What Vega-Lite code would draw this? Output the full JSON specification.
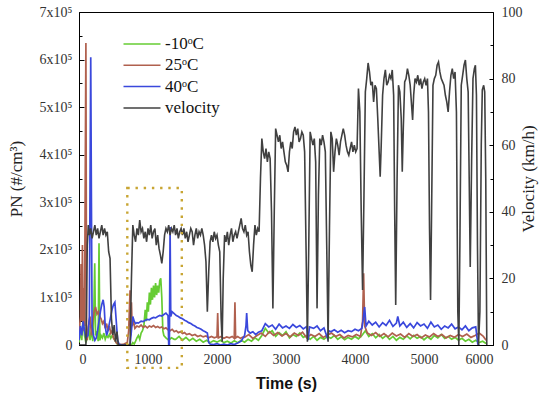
{
"$schema": "https://vega.github.io/schema/vega-lite/v6.json",
"width": 414, "height": 333,
"autosize": "none",
"padding": {"left": 79, "top": 12, "right": 57, "bottom": 54},
"background": "white",
"config": {
 "view": {"stroke": "black", "strokeWidth": 1},
 "axis": {"labelFont": "Liberation Serif", "labelFontSize": 14, "labelColor": "#333", "titleFont": "Liberation Serif", "titleFontSize": 17, "titleFontWeight": "normal", "titleColor": "#222", "domainColor": "black", "tickColor": "black", "grid": false}
},
"datasets": {
 "vel": [
{"t":0,"v":0},{"t":60,"v":0},{"t":100,"v":0},{"t":120,"v":30},{"t":135,"v":36},{"t":150,"v":33},{"t":170,"v":35},{"t":190,"v":32},{"t":210,"v":34},{"t":230,"v":36},{"t":250,"v":33},{"t":270,"v":35},{"t":290,"v":32},{"t":310,"v":34},{"t":330,"v":36},{"t":350,"v":33},{"t":370,"v":35},{"t":390,"v":33},{"t":410,"v":34},{"t":430,"v":28},{"t":450,"v":26},{"t":470,"v":8},{"t":490,"v":3},{"t":510,"v":6},{"t":530,"v":1},{"t":550,"v":4},{"t":570,"v":0},{"t":600,"v":0},{"t":700,"v":0},{"t":740,"v":0},{"t":760,"v":20},{"t":780,"v":36},{"t":800,"v":33},{"t":820,"v":31},{"t":840,"v":35},{"t":860,"v":33},{"t":880,"v":37.5},{"t":900,"v":34},{"t":920,"v":35},{"t":940,"v":32},{"t":960,"v":34},{"t":980,"v":31},{"t":1000,"v":35},{"t":1020,"v":33},{"t":1040,"v":36},{"t":1060,"v":32},{"t":1080,"v":34},{"t":1100,"v":35},{"t":1120,"v":30},{"t":1140,"v":33},{"t":1160,"v":29},{"t":1180,"v":27},{"t":1200,"v":24.5},{"t":1220,"v":28},{"t":1240,"v":33},{"t":1260,"v":35},{"t":1280,"v":34},{"t":1300,"v":36},{"t":1320,"v":33},{"t":1340,"v":35},{"t":1360,"v":34},{"t":1380,"v":36},{"t":1400,"v":33},{"t":1420,"v":35},{"t":1440,"v":32},{"t":1460,"v":34},{"t":1480,"v":35},{"t":1500,"v":33},{"t":1520,"v":35},{"t":1540,"v":32},{"t":1560,"v":34},{"t":1580,"v":31},{"t":1600,"v":33},{"t":1620,"v":35},{"t":1640,"v":34},{"t":1660,"v":30},{"t":1680,"v":33},{"t":1700,"v":35},{"t":1720,"v":32},{"t":1740,"v":34},{"t":1760,"v":33},{"t":1780,"v":35},{"t":1800,"v":33},{"t":1820,"v":30},{"t":1840,"v":25},{"t":1860,"v":10},{"t":1880,"v":22},{"t":1900,"v":31},{"t":1920,"v":33},{"t":1940,"v":31},{"t":1960,"v":34},{"t":1980,"v":32},{"t":2000,"v":33},{"t":2020,"v":30},{"t":2040,"v":28},{"t":2060,"v":8},{"t":2075,"v":1},{"t":2090,"v":20},{"t":2110,"v":33},{"t":2130,"v":31},{"t":2150,"v":34},{"t":2170,"v":30},{"t":2190,"v":33},{"t":2210,"v":35},{"t":2230,"v":31},{"t":2250,"v":33},{"t":2270,"v":34},{"t":2290,"v":32},{"t":2310,"v":34},{"t":2330,"v":36},{"t":2350,"v":38},{"t":2370,"v":35},{"t":2390,"v":34},{"t":2410,"v":36},{"t":2430,"v":33},{"t":2450,"v":34},{"t":2470,"v":28},{"t":2490,"v":24},{"t":2510,"v":22},{"t":2530,"v":30},{"t":2550,"v":36},{"t":2570,"v":33},{"t":2590,"v":35},{"t":2610,"v":34},{"t":2630,"v":50},{"t":2650,"v":62},{"t":2670,"v":58},{"t":2690,"v":56},{"t":2710,"v":59},{"t":2730,"v":55},{"t":2750,"v":58},{"t":2770,"v":56},{"t":2790,"v":40},{"t":2810,"v":11},{"t":2830,"v":40},{"t":2850,"v":65},{"t":2870,"v":63},{"t":2890,"v":61},{"t":2910,"v":63},{"t":2930,"v":59},{"t":2950,"v":61},{"t":2970,"v":58},{"t":2990,"v":55},{"t":3010,"v":54},{"t":3030,"v":52},{"t":3050,"v":58},{"t":3070,"v":61},{"t":3090,"v":59},{"t":3110,"v":64},{"t":3130,"v":65.5},{"t":3150,"v":63},{"t":3170,"v":65},{"t":3190,"v":61},{"t":3210,"v":62},{"t":3230,"v":64},{"t":3250,"v":63},{"t":3270,"v":58},{"t":3290,"v":30},{"t":3310,"v":1},{"t":3330,"v":30},{"t":3350,"v":64},{"t":3370,"v":62},{"t":3390,"v":60},{"t":3410,"v":62},{"t":3430,"v":55},{"t":3450,"v":11},{"t":3470,"v":45},{"t":3490,"v":62},{"t":3510,"v":60},{"t":3530,"v":63},{"t":3550,"v":61},{"t":3570,"v":58},{"t":3590,"v":30},{"t":3610,"v":1},{"t":3630,"v":35},{"t":3650,"v":64},{"t":3670,"v":62},{"t":3690,"v":52},{"t":3710,"v":58},{"t":3730,"v":62},{"t":3750,"v":60},{"t":3770,"v":57},{"t":3790,"v":61},{"t":3810,"v":63},{"t":3830,"v":65},{"t":3850,"v":63},{"t":3870,"v":60},{"t":3890,"v":58},{"t":3910,"v":57},{"t":3930,"v":59},{"t":3950,"v":61},{"t":3970,"v":58},{"t":3990,"v":60},{"t":4010,"v":58},{"t":4030,"v":59},{"t":4050,"v":77},{"t":4070,"v":70},{"t":4090,"v":40},{"t":4110,"v":16.5},{"t":4130,"v":45},{"t":4150,"v":76},{"t":4170,"v":80},{"t":4190,"v":84.7},{"t":4210,"v":82},{"t":4230,"v":78},{"t":4250,"v":79},{"t":4270,"v":73},{"t":4290,"v":78},{"t":4310,"v":77},{"t":4330,"v":68},{"t":4350,"v":58},{"t":4365,"v":50.5},{"t":4380,"v":60},{"t":4400,"v":75},{"t":4420,"v":80},{"t":4440,"v":82.6},{"t":4460,"v":78},{"t":4480,"v":79},{"t":4500,"v":81},{"t":4520,"v":80},{"t":4540,"v":82.6},{"t":4560,"v":75},{"t":4575,"v":40},{"t":4590,"v":12},{"t":4610,"v":50},{"t":4630,"v":78},{"t":4650,"v":76},{"t":4670,"v":68},{"t":4685,"v":52},{"t":4700,"v":65},{"t":4720,"v":79},{"t":4740,"v":80},{"t":4760,"v":83},{"t":4780,"v":81},{"t":4800,"v":78},{"t":4820,"v":72},{"t":4835,"v":67.6},{"t":4850,"v":75},{"t":4870,"v":80},{"t":4890,"v":79},{"t":4910,"v":81},{"t":4930,"v":78},{"t":4950,"v":80},{"t":4970,"v":77},{"t":4990,"v":79},{"t":5010,"v":80},{"t":5030,"v":78},{"t":5050,"v":80},{"t":5065,"v":70},{"t":5080,"v":35},{"t":5095,"v":13.5},{"t":5110,"v":40},{"t":5130,"v":78},{"t":5150,"v":80},{"t":5170,"v":81},{"t":5190,"v":84},{"t":5210,"v":85},{"t":5230,"v":82},{"t":5250,"v":80},{"t":5270,"v":79},{"t":5290,"v":78},{"t":5310,"v":75},{"t":5330,"v":73},{"t":5350,"v":70},{"t":5370,"v":76},{"t":5390,"v":81},{"t":5410,"v":83},{"t":5430,"v":80},{"t":5450,"v":82},{"t":5470,"v":70},{"t":5490,"v":10},{"t":5505,"v":0},{"t":5520,"v":30},{"t":5540,"v":78},{"t":5560,"v":81},{"t":5580,"v":84},{"t":5600,"v":85.6},{"t":5620,"v":80},{"t":5640,"v":76},{"t":5655,"v":50},{"t":5670,"v":23.4},{"t":5690,"v":55},{"t":5710,"v":80},{"t":5730,"v":83},{"t":5745,"v":84},{"t":5760,"v":75},{"t":5775,"v":30},{"t":5790,"v":0},{"t":5810,"v":10},{"t":5830,"v":60},{"t":5845,"v":76.6},{"t":5865,"v":78},{"t":5880,"v":76},{"t":5895,"v":50},{"t":5910,"v":0}
 ],
 "pn": [
{"s":"g","t":0,"y":5000},{"s":"g","t":20,"y":30000},{"s":"g","t":40,"y":10000},{"s":"g","t":60,"y":60000},{"s":"g","t":80,"y":20000},{"s":"g","t":100,"y":5000},{"s":"g","t":120,"y":15000},{"s":"g","t":140,"y":40000},{"s":"g","t":160,"y":10000},{"s":"g","t":180,"y":30000},{"s":"g","t":200,"y":8000},{"s":"g","t":215,"y":70000},{"s":"g","t":228,"y":172000},{"s":"g","t":240,"y":20000},{"s":"g","t":260,"y":30000},{"s":"g","t":278,"y":8000},{"s":"g","t":290,"y":214000},{"s":"g","t":302,"y":10000},{"s":"g","t":320,"y":20000},{"s":"g","t":340,"y":15000},{"s":"g","t":360,"y":25000},{"s":"g","t":380,"y":12000},{"s":"g","t":400,"y":20000},{"s":"g","t":420,"y":16000},{"s":"g","t":440,"y":22000},{"s":"g","t":460,"y":14000},{"s":"g","t":480,"y":20000},{"s":"g","t":500,"y":15000},{"s":"g","t":520,"y":10000},{"s":"g","t":540,"y":5000},{"s":"g","t":560,"y":1000},{"s":"g","t":600,"y":0},{"s":"g","t":700,"y":0},{"s":"g","t":760,"y":0},{"s":"g","t":780,"y":5000},{"s":"g","t":800,"y":2000},{"s":"g","t":820,"y":8000},{"s":"g","t":840,"y":15000},{"s":"g","t":860,"y":20000},{"s":"g","t":880,"y":12000},{"s":"g","t":900,"y":25000},{"s":"g","t":920,"y":30000},{"s":"g","t":940,"y":40000},{"s":"g","t":960,"y":74000},{"s":"g","t":975,"y":50000},{"s":"g","t":990,"y":90000},{"s":"g","t":1005,"y":70000},{"s":"g","t":1020,"y":110000},{"s":"g","t":1035,"y":85000},{"s":"g","t":1050,"y":120000},{"s":"g","t":1065,"y":95000},{"s":"g","t":1080,"y":125000},{"s":"g","t":1095,"y":100000},{"s":"g","t":1110,"y":130000},{"s":"g","t":1125,"y":105000},{"s":"g","t":1140,"y":125000},{"s":"g","t":1155,"y":110000},{"s":"g","t":1170,"y":135000},{"s":"g","t":1185,"y":140000},{"s":"g","t":1200,"y":100000},{"s":"g","t":1215,"y":30000},{"s":"g","t":1230,"y":20000},{"s":"g","t":1260,"y":15000},{"s":"g","t":1300,"y":10000},{"s":"g","t":1340,"y":15000},{"s":"g","t":1380,"y":12000},{"s":"g","t":1400,"y":12000},{"s":"g","t":1450,"y":18000},{"s":"g","t":1500,"y":10000},{"s":"g","t":1550,"y":16000},{"s":"g","t":1600,"y":9000},{"s":"g","t":1650,"y":14000},{"s":"g","t":1700,"y":8000},{"s":"g","t":1750,"y":12000},{"s":"g","t":1800,"y":6000},{"s":"g","t":1850,"y":10000},{"s":"g","t":1900,"y":5000},{"s":"g","t":1950,"y":9000},{"s":"g","t":2000,"y":6000},{"s":"g","t":2050,"y":10000},{"s":"g","t":2100,"y":5000},{"s":"g","t":2150,"y":8000},{"s":"g","t":2200,"y":4000},{"s":"g","t":2250,"y":9000},{"s":"g","t":2300,"y":5000},{"s":"g","t":2350,"y":10000},{"s":"g","t":2400,"y":6000},{"s":"g","t":2450,"y":12000},{"s":"g","t":2500,"y":8000},{"s":"g","t":2550,"y":15000},{"s":"g","t":2600,"y":10000},{"s":"g","t":2650,"y":20000},{"s":"g","t":2700,"y":35000},{"s":"g","t":2750,"y":25000},{"s":"g","t":2800,"y":30000},{"s":"g","t":2850,"y":18000},{"s":"g","t":2900,"y":26000},{"s":"g","t":2950,"y":20000},{"s":"g","t":3000,"y":28000},{"s":"g","t":3050,"y":15000},{"s":"g","t":3100,"y":22000},{"s":"g","t":3150,"y":18000},{"s":"g","t":3200,"y":25000},{"s":"g","t":3250,"y":16000},{"s":"g","t":3300,"y":20000},{"s":"g","t":3350,"y":12000},{"s":"g","t":3400,"y":18000},{"s":"g","t":3450,"y":10000},{"s":"g","t":3500,"y":16000},{"s":"g","t":3550,"y":12000},{"s":"g","t":3600,"y":18000},{"s":"g","t":3650,"y":14000},{"s":"g","t":3700,"y":20000},{"s":"g","t":3750,"y":12000},{"s":"g","t":3800,"y":17000},{"s":"g","t":3850,"y":11000},{"s":"g","t":3900,"y":16000},{"s":"g","t":3950,"y":12000},{"s":"g","t":4000,"y":18000},{"s":"g","t":4050,"y":13000},{"s":"g","t":4100,"y":20000},{"s":"g","t":4150,"y":30000},{"s":"g","t":4200,"y":18000},{"s":"g","t":4250,"y":24000},{"s":"g","t":4300,"y":15000},{"s":"g","t":4350,"y":22000},{"s":"g","t":4400,"y":14000},{"s":"g","t":4450,"y":20000},{"s":"g","t":4500,"y":12000},{"s":"g","t":4550,"y":18000},{"s":"g","t":4600,"y":10000},{"s":"g","t":4650,"y":16000},{"s":"g","t":4700,"y":12000},{"s":"g","t":4750,"y":19000},{"s":"g","t":4800,"y":13000},{"s":"g","t":4850,"y":20000},{"s":"g","t":4900,"y":14000},{"s":"g","t":4950,"y":18000},{"s":"g","t":5000,"y":11000},{"s":"g","t":5050,"y":17000},{"s":"g","t":5100,"y":12000},{"s":"g","t":5150,"y":20000},{"s":"g","t":5200,"y":15000},{"s":"g","t":5250,"y":22000},{"s":"g","t":5300,"y":14000},{"s":"g","t":5350,"y":18000},{"s":"g","t":5400,"y":12000},{"s":"g","t":5450,"y":16000},{"s":"g","t":5500,"y":10000},{"s":"g","t":5550,"y":14000},{"s":"g","t":5600,"y":8000},{"s":"g","t":5650,"y":12000},{"s":"g","t":5700,"y":6000},{"s":"g","t":5750,"y":10000},{"s":"g","t":5800,"y":5000},{"s":"g","t":5850,"y":8000},{"s":"g","t":5900,"y":3000},
{"s":"r","t":0,"y":20000},{"s":"r","t":20,"y":60000},{"s":"r","t":30,"y":170000},{"s":"r","t":40,"y":50000},{"s":"r","t":50,"y":210000},{"s":"r","t":60,"y":30000},{"s":"r","t":70,"y":120000},{"s":"r","t":80,"y":40000},{"s":"r","t":100,"y":635000},{"s":"r","t":110,"y":30000},{"s":"r","t":120,"y":10000},{"s":"r","t":140,"y":40000},{"s":"r","t":160,"y":60000},{"s":"r","t":180,"y":20000},{"s":"r","t":200,"y":50000},{"s":"r","t":220,"y":70000},{"s":"r","t":240,"y":80000},{"s":"r","t":260,"y":65000},{"s":"r","t":280,"y":70000},{"s":"r","t":300,"y":60000},{"s":"r","t":320,"y":55000},{"s":"r","t":340,"y":45000},{"s":"r","t":360,"y":50000},{"s":"r","t":380,"y":35000},{"s":"r","t":400,"y":45000},{"s":"r","t":420,"y":30000},{"s":"r","t":440,"y":40000},{"s":"r","t":460,"y":25000},{"s":"r","t":480,"y":30000},{"s":"r","t":500,"y":15000},{"s":"r","t":520,"y":10000},{"s":"r","t":540,"y":5000},{"s":"r","t":560,"y":2000},{"s":"r","t":600,"y":1000},{"s":"r","t":650,"y":2000},{"s":"r","t":700,"y":5000},{"s":"r","t":720,"y":30000},{"s":"r","t":740,"y":115000},{"s":"r","t":750,"y":20000},{"s":"r","t":760,"y":90000},{"s":"r","t":770,"y":40000},{"s":"r","t":790,"y":50000},{"s":"r","t":810,"y":35000},{"s":"r","t":840,"y":40000},{"s":"r","t":870,"y":38000},{"s":"r","t":900,"y":42000},{"s":"r","t":930,"y":37000},{"s":"r","t":960,"y":40000},{"s":"r","t":990,"y":36000},{"s":"r","t":1020,"y":40000},{"s":"r","t":1050,"y":38000},{"s":"r","t":1080,"y":41000},{"s":"r","t":1110,"y":37000},{"s":"r","t":1140,"y":39000},{"s":"r","t":1170,"y":36000},{"s":"r","t":1200,"y":38000},{"s":"r","t":1230,"y":34000},{"s":"r","t":1260,"y":36000},{"s":"r","t":1290,"y":32000},{"s":"r","t":1320,"y":30000},{"s":"r","t":1350,"y":33000},{"s":"r","t":1380,"y":28000},{"s":"r","t":1410,"y":30000},{"s":"r","t":1440,"y":26000},{"s":"r","t":1470,"y":28000},{"s":"r","t":1500,"y":24000},{"s":"r","t":1530,"y":26000},{"s":"r","t":1560,"y":22000},{"s":"r","t":1600,"y":24000},{"s":"r","t":1640,"y":20000},{"s":"r","t":1680,"y":22000},{"s":"r","t":1720,"y":18000},{"s":"r","t":1760,"y":20000},{"s":"r","t":1800,"y":17000},{"s":"r","t":1840,"y":19000},{"s":"r","t":1880,"y":15000},{"s":"r","t":1920,"y":18000},{"s":"r","t":1960,"y":15000},{"s":"r","t":2000,"y":17000},{"s":"r","t":2010,"y":67000},{"s":"r","t":2020,"y":15000},{"s":"r","t":2060,"y":18000},{"s":"r","t":2100,"y":14000},{"s":"r","t":2140,"y":17000},{"s":"r","t":2180,"y":15000},{"s":"r","t":2220,"y":18000},{"s":"r","t":2250,"y":14000},{"s":"r","t":2260,"y":90000},{"s":"r","t":2270,"y":15000},{"s":"r","t":2300,"y":18000},{"s":"r","t":2340,"y":14000},{"s":"r","t":2380,"y":17000},{"s":"r","t":2400,"y":16000},{"s":"r","t":2460,"y":22000},{"s":"r","t":2520,"y":14000},{"s":"r","t":2580,"y":20000},{"s":"r","t":2640,"y":25000},{"s":"r","t":2700,"y":18000},{"s":"r","t":2760,"y":28000},{"s":"r","t":2820,"y":20000},{"s":"r","t":2880,"y":26000},{"s":"r","t":2940,"y":19000},{"s":"r","t":3000,"y":24000},{"s":"r","t":3060,"y":17000},{"s":"r","t":3120,"y":25000},{"s":"r","t":3180,"y":20000},{"s":"r","t":3240,"y":27000},{"s":"r","t":3300,"y":15000},{"s":"r","t":3360,"y":22000},{"s":"r","t":3420,"y":18000},{"s":"r","t":3480,"y":24000},{"s":"r","t":3540,"y":16000},{"s":"r","t":3600,"y":21000},{"s":"r","t":3660,"y":25000},{"s":"r","t":3720,"y":18000},{"s":"r","t":3780,"y":22000},{"s":"r","t":3840,"y":15000},{"s":"r","t":3900,"y":20000},{"s":"r","t":3960,"y":17000},{"s":"r","t":4020,"y":22000},{"s":"r","t":4080,"y":18000},{"s":"r","t":4110,"y":50000},{"s":"r","t":4125,"y":151000},{"s":"r","t":4140,"y":40000},{"s":"r","t":4180,"y":25000},{"s":"r","t":4240,"y":20000},{"s":"r","t":4300,"y":26000},{"s":"r","t":4360,"y":18000},{"s":"r","t":4420,"y":24000},{"s":"r","t":4480,"y":17000},{"s":"r","t":4540,"y":25000},{"s":"r","t":4600,"y":19000},{"s":"r","t":4660,"y":23000},{"s":"r","t":4720,"y":16000},{"s":"r","t":4780,"y":24000},{"s":"r","t":4840,"y":18000},{"s":"r","t":4900,"y":22000},{"s":"r","t":4960,"y":15000},{"s":"r","t":5020,"y":21000},{"s":"r","t":5080,"y":17000},{"s":"r","t":5140,"y":24000},{"s":"r","t":5200,"y":18000},{"s":"r","t":5260,"y":22000},{"s":"r","t":5320,"y":15000},{"s":"r","t":5380,"y":20000},{"s":"r","t":5440,"y":16000},{"s":"r","t":5500,"y":22000},{"s":"r","t":5560,"y":18000},{"s":"r","t":5620,"y":23000},{"s":"r","t":5680,"y":16000},{"s":"r","t":5740,"y":20000},{"s":"r","t":5800,"y":25000},{"s":"r","t":5860,"y":18000},{"s":"r","t":5900,"y":10000},
{"s":"b","t":0,"y":10000},{"s":"b","t":20,"y":40000},{"s":"b","t":40,"y":20000},{"s":"b","t":60,"y":50000},{"s":"b","t":80,"y":30000},{"s":"b","t":100,"y":15000},{"s":"b","t":130,"y":20000},{"s":"b","t":150,"y":60000},{"s":"b","t":170,"y":605000},{"s":"b","t":180,"y":300000},{"s":"b","t":190,"y":40000},{"s":"b","t":210,"y":20000},{"s":"b","t":230,"y":10000},{"s":"b","t":250,"y":15000},{"s":"b","t":270,"y":30000},{"s":"b","t":290,"y":50000},{"s":"b","t":310,"y":70000},{"s":"b","t":330,"y":85000},{"s":"b","t":350,"y":95000},{"s":"b","t":365,"y":80000},{"s":"b","t":380,"y":40000},{"s":"b","t":400,"y":20000},{"s":"b","t":420,"y":30000},{"s":"b","t":440,"y":45000},{"s":"b","t":460,"y":60000},{"s":"b","t":480,"y":75000},{"s":"b","t":500,"y":85000},{"s":"b","t":520,"y":90000},{"s":"b","t":540,"y":50000},{"s":"b","t":560,"y":10000},{"s":"b","t":580,"y":2000},{"s":"b","t":620,"y":0},{"s":"b","t":740,"y":0},{"s":"b","t":760,"y":30000},{"s":"b","t":780,"y":60000},{"s":"b","t":800,"y":50000},{"s":"b","t":820,"y":45000},{"s":"b","t":840,"y":47000},{"s":"b","t":860,"y":46000},{"s":"b","t":880,"y":48000},{"s":"b","t":900,"y":50000},{"s":"b","t":930,"y":49000},{"s":"b","t":960,"y":52000},{"s":"b","t":990,"y":54000},{"s":"b","t":1020,"y":53000},{"s":"b","t":1050,"y":56000},{"s":"b","t":1080,"y":58000},{"s":"b","t":1110,"y":57000},{"s":"b","t":1140,"y":60000},{"s":"b","t":1170,"y":62000},{"s":"b","t":1200,"y":61000},{"s":"b","t":1230,"y":64000},{"s":"b","t":1260,"y":67000},{"s":"b","t":1290,"y":62000},{"s":"b","t":1300,"y":0},{"s":"b","t":1310,"y":0},{"s":"b","t":1320,"y":248000},{"s":"b","t":1330,"y":60000},{"s":"b","t":1350,"y":70000},{"s":"b","t":1380,"y":66000},{"s":"b","t":1410,"y":62000},{"s":"b","t":1440,"y":60000},{"s":"b","t":1470,"y":57000},{"s":"b","t":1500,"y":55000},{"s":"b","t":1530,"y":52000},{"s":"b","t":1560,"y":50000},{"s":"b","t":1590,"y":47000},{"s":"b","t":1620,"y":45000},{"s":"b","t":1650,"y":42000},{"s":"b","t":1680,"y":40000},{"s":"b","t":1710,"y":37000},{"s":"b","t":1740,"y":35000},{"s":"b","t":1770,"y":33000},{"s":"b","t":1800,"y":30000},{"s":"b","t":1830,"y":28000},{"s":"b","t":1860,"y":25000},{"s":"b","t":1880,"y":5000},{"s":"b","t":1900,"y":2000},{"s":"b","t":1950,"y":1000},{"s":"b","t":2000,"y":3000},{"s":"b","t":2050,"y":0},{"s":"b","t":2100,"y":2000},{"s":"b","t":2150,"y":0},{"s":"b","t":2200,"y":3000},{"s":"b","t":2250,"y":1000},{"s":"b","t":2300,"y":4000},{"s":"b","t":2350,"y":8000},{"s":"b","t":2400,"y":20000},{"s":"b","t":2420,"y":40000},{"s":"b","t":2430,"y":67000},{"s":"b","t":2445,"y":30000},{"s":"b","t":2480,"y":25000},{"s":"b","t":2520,"y":28000},{"s":"b","t":2560,"y":22000},{"s":"b","t":2600,"y":27000},{"s":"b","t":2650,"y":30000},{"s":"b","t":2700,"y":45000},{"s":"b","t":2750,"y":38000},{"s":"b","t":2800,"y":42000},{"s":"b","t":2850,"y":33000},{"s":"b","t":2900,"y":44000},{"s":"b","t":2950,"y":36000},{"s":"b","t":3000,"y":40000},{"s":"b","t":3050,"y":35000},{"s":"b","t":3100,"y":43000},{"s":"b","t":3150,"y":37000},{"s":"b","t":3200,"y":41000},{"s":"b","t":3250,"y":34000},{"s":"b","t":3300,"y":39000},{"s":"b","t":3320,"y":10000},{"s":"b","t":3340,"y":38000},{"s":"b","t":3400,"y":35000},{"s":"b","t":3450,"y":40000},{"s":"b","t":3500,"y":30000},{"s":"b","t":3550,"y":36000},{"s":"b","t":3600,"y":15000},{"s":"b","t":3620,"y":30000},{"s":"b","t":3650,"y":28000},{"s":"b","t":3700,"y":32000},{"s":"b","t":3750,"y":27000},{"s":"b","t":3800,"y":31000},{"s":"b","t":3850,"y":26000},{"s":"b","t":3900,"y":30000},{"s":"b","t":3950,"y":28000},{"s":"b","t":4000,"y":33000},{"s":"b","t":4050,"y":30000},{"s":"b","t":4100,"y":35000},{"s":"b","t":4120,"y":55000},{"s":"b","t":4140,"y":80000},{"s":"b","t":4160,"y":40000},{"s":"b","t":4200,"y":50000},{"s":"b","t":4250,"y":42000},{"s":"b","t":4300,"y":48000},{"s":"b","t":4350,"y":38000},{"s":"b","t":4400,"y":47000},{"s":"b","t":4450,"y":41000},{"s":"b","t":4500,"y":52000},{"s":"b","t":4550,"y":39000},{"s":"b","t":4600,"y":46000},{"s":"b","t":4620,"y":60000},{"s":"b","t":4650,"y":40000},{"s":"b","t":4700,"y":48000},{"s":"b","t":4750,"y":37000},{"s":"b","t":4800,"y":45000},{"s":"b","t":4850,"y":36000},{"s":"b","t":4900,"y":47000},{"s":"b","t":4950,"y":40000},{"s":"b","t":5000,"y":44000},{"s":"b","t":5050,"y":35000},{"s":"b","t":5100,"y":48000},{"s":"b","t":5150,"y":38000},{"s":"b","t":5200,"y":42000},{"s":"b","t":5250,"y":33000},{"s":"b","t":5300,"y":40000},{"s":"b","t":5350,"y":36000},{"s":"b","t":5400,"y":44000},{"s":"b","t":5450,"y":34000},{"s":"b","t":5500,"y":38000},{"s":"b","t":5550,"y":32000},{"s":"b","t":5600,"y":40000},{"s":"b","t":5650,"y":30000},{"s":"b","t":5700,"y":36000},{"s":"b","t":5750,"y":38000},{"s":"b","t":5780,"y":2000},{"s":"b","t":5800,"y":0}
 ],
 "box": [{"t": 700, "t2": 1490, "y": -48000, "y2": 330000}],
 "dummy": [{"t": 0, "y": 0}]
},
"encoding": {
 "x": {"field": "t", "type": "quantitative", "scale": {"domain": [0, 6000], "nice": false},
  "axis": {"values": [0, 1000, 2000, 3000, 4000, 5000, 6000], "format": "d", "ticks": false, "labelPadding": 7, "labelFont": "Liberation Serif", "labelFontSize": 14, "title": "Time (s)", "titleFont": "Liberation Sans", "titleFontWeight": "bold", "titleFontSize": 16, "titleColor": "#111", "titlePadding": 9}}
},
"layer": [
 {
  "data": {"name": "pn"},
  "mark": {"type": "line", "strokeWidth": 1.7, "clip": true},
  "encoding": {
   "y": {"field": "y", "type": "quantitative", "scale": {"domain": [0, 700000], "nice": false},
    "axis": {"orient": "left", "values": [0, 100000, 200000, 300000, 400000, 500000, 600000, 700000], "labelExpr": "datum.value == 0 ? '0' : (datum.value / 100000) + 'x10⁵'", "labelFont": "Liberation Serif", "labelFontSize": 14, "tickSize": -5, "labelPadding": 12, "title": "PN (#/cm³)", "titlePadding": 14}},
   "color": {"field": "s", "type": "nominal",
    "scale": {"domain": ["g", "r", "b", "v"], "range": ["#66cc33", "#b0604e", "#3a48dc", "#404040"]},
    "legend": {"orient": "none", "legendX": 52, "legendY": 21, "title": null, "symbolType": "M-1.85,0L1.85,0", "symbolSize": 400, "symbolStrokeWidth": 1.5, "labelOffset": 12, "rowPadding": 2.3, "padding": 0, "labelFont": "Liberation Serif", "labelFontSize": 17, "labelColor": "#111",
     "labelExpr": "{'g': '-10ᵒC', 'r': '25ᵒC', 'b': '40ᵒC', 'v': 'velocity'}[datum.label]"}}
  }
 },
 {
  "data": {"name": "vel"},
  "mark": {"type": "line", "strokeWidth": 1.6, "clip": true},
  "encoding": {
   "y": {"field": "v", "type": "quantitative", "scale": {"domain": [0, 100], "nice": false},
    "axis": {"orient": "right", "values": [0, 20, 40, 60, 80, 100], "labelFont": "Liberation Serif", "labelFontSize": 14, "tickSize": -4, "labelPadding": 12, "title": "Velocity (km/h)", "titleAngle": 270, "titlePadding": 15}},
   "color": {"datum": "v"}
  }
 },
 {
  "data": {"name": "dummy"},
  "mark": {"type": "point", "opacity": 0},
  "encoding": {
   "y": {"field": "y", "type": "quantitative", "scale": {"domain": [0, 700000], "nice": false},
    "axis": {"orient": "left", "values": [50000, 150000, 250000, 350000, 450000, 550000, 650000], "labels": false, "domain": false, "tickSize": -3, "title": null}}
  }
 },
 {
  "data": {"name": "dummy"},
  "mark": {"type": "point", "opacity": 0},
  "encoding": {
   "y": {"field": "y", "type": "quantitative", "scale": {"domain": [0, 100], "nice": false},
    "axis": {"orient": "right", "values": [10, 30, 50, 70, 90], "labels": false, "domain": false, "tickSize": -3, "title": null}}
  }
 },
 {
  "data": {"name": "box"},
  "mark": {"type": "rect", "fill": null, "fillOpacity": 0, "stroke": "#c8a533", "strokeWidth": 2.4, "strokeDash": [2.4, 5.8], "clip": false},
  "encoding": {
   "x2": {"field": "t2"},
   "y": {"field": "y", "type": "quantitative", "scale": {"domain": [0, 700000], "nice": false}, "axis": null},
   "y2": {"field": "y2"}
  }
 }
],
"resolve": {"scale": {"y": "independent"}, "axis": {"y": "independent"}}
}
